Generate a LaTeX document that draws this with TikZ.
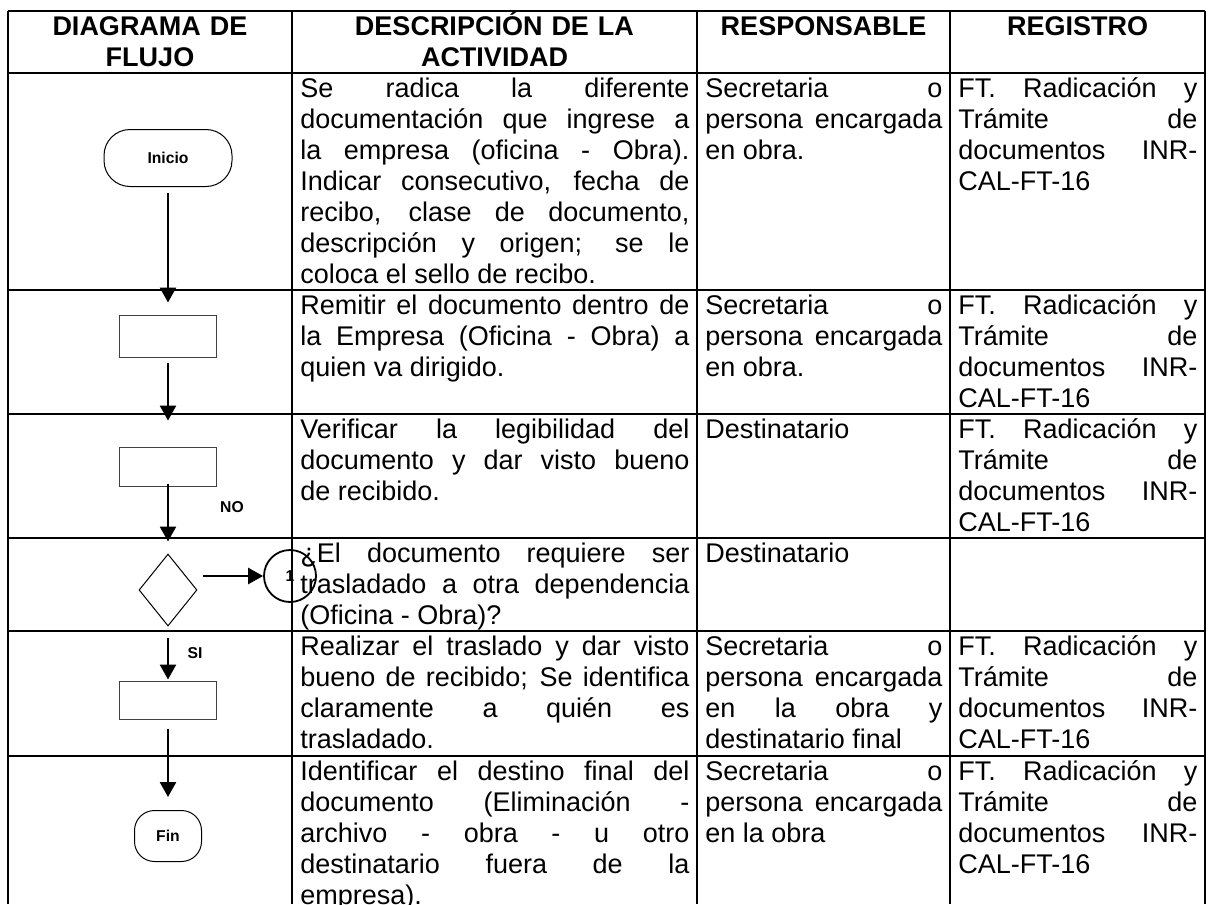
\documentclass[tikz,border=0pt]{standalone}
\usepackage{fontspec}
\setmainfont{Liberation Sans}
\usetikzlibrary{shapes.geometric,arrows.meta}

\newcommand{\cuerpo}{\fontsize{13.5}{15.5}\selectfont}
\newcommand{\linea}{\rule[-3.5pt]{0pt}{15.5pt}}
\newcommand{\registroFT}{\linea FT. Radicación y\linebreak Trámite de\linebreak documentos INR-\linebreak CAL-FT-16}
\newcommand{\secretaria}{\linea Secretaria o\linebreak persona encargada\linebreak en obra.}

\tikzset{
  celda/.style={anchor=north west, inner sep=0pt, align=justify, font=\cuerpo},
  titulo/.style={anchor=north, inner sep=0pt, align=center, font=\cuerpo\bfseries},
  proceso/.style={draw=black!75, line width=0.5pt, minimum width=48.5pt, inner sep=0pt},
  terminal/.style={draw, line width=0.5pt, inner sep=0pt, font=\fontsize{7.85}{9}\selectfont\bfseries},
  decision/.style={diamond, draw, line width=0.5pt, minimum width=29pt, minimum height=36pt, inner sep=0pt},
  conector/.style={circle, draw, line width=0.9pt, minimum size=26pt, inner sep=0pt, font=\fontsize{7.85}{9}\selectfont\bfseries},
  etiqueta/.style={inner sep=0pt, font=\fontsize{7.85}{9}\selectfont\bfseries},
  flecha/.style={-{Triangle[length=7.5pt,width=8pt]}, line width=1.3pt}
}

\begin{document}
\begin{tikzpicture}[x=0.5pt,y=-0.5pt]
	\useasboundingbox (0,0) rectangle (1208,904);
	\clip (0,0) rectangle (1208,904);
	
	% Tabla
	\foreach \y in {11,73,290,414,538,631,756}
		\draw[line width=1.2pt] (8,\y) -- (1205,\y);
	\foreach \x in {8,292,697,950,1205}
		\draw[line width=1.2pt] (\x,11) -- (\x,904);
	
	% Encabezados
	\node[titulo, text width=135pt] (h1) at (150,11) {\linea DIAGRAMA DE\\FLUJO};
	\node[titulo, text width=195pt] (h2) at (494.5,11) {\linea DESCRIPCIÓN DE LA\\ACTIVIDAD};
	\node[titulo, text width=120pt] (h3) at (823.5,11) {\linea RESPONSABLE};
	\node[titulo, text width=120pt] (h4) at (1077.5,11) {\linea REGISTRO};
	
	% Descripcion de cada actividad
	\node[celda, text width=194.5pt] (d1) at (300,73) {\linea Se radica la diferente\linebreak documentación que ingrese a\linebreak la empresa (oficina - Obra).\linebreak Indicar consecutivo, fecha de\linebreak recibo, clase de documento,\linebreak descripción y origen; se le\linebreak coloca el sello de recibo.};
	\node[celda, text width=194.5pt] (d2) at (300,290) {\linea Remitir el documento dentro de\linebreak la Empresa (Oficina - Obra) a\linebreak quien va dirigido.};
	\node[celda, text width=194.5pt] (d3) at (300,414) {\linea Verificar la legibilidad del\linebreak documento y dar visto bueno\linebreak de recibido.};
	\node[celda, text width=194.5pt] (d4) at (300,538) {\linea ¿El documento requiere ser\linebreak trasladado a otra dependencia\linebreak (Oficina - Obra)?};
	\node[celda, text width=194.5pt] (d5) at (300,631) {\linea Realizar el traslado y dar visto\linebreak bueno de recibido; Se identifica\linebreak claramente a quién es\linebreak trasladado.};
	\node[celda, text width=194.5pt] (d6) at (300,756) {\linea Identificar el destino final del\linebreak documento (Eliminación -\linebreak archivo - obra - u otro\linebreak destinatario fuera de la\linebreak empresa).};
	
	% Responsable
	\node[celda, text width=118.5pt] (s1) at (705,73) {\secretaria};
	\node[celda, text width=118.5pt] (s2) at (705,290) {\secretaria};
	\node[celda, text width=118.5pt] (s3) at (705,414) {\linea Destinatario};
	\node[celda, text width=118.5pt] (s4) at (705,538) {\linea Destinatario};
	\node[celda, text width=118.5pt] (s5) at (705,631) {\linea Secretaria o\linebreak persona encargada\linebreak en la obra y\linebreak destinatario final};
	\node[celda, text width=118.5pt] (s6) at (705,756) {\linea Secretaria o\linebreak persona encargada\linebreak en la obra};
	
	% Registro
	\foreach \y/\n in {73/1,290/2,414/3,631/5,756/6}
		\node[celda, text width=119.5pt] (f\n) at (958,\y) {\registroFT};
	
	% Diagrama
	\node[terminal, minimum width=64pt, minimum height=28.5pt, rounded corners=13pt] (ini) at (168,158) {Inicio};
	\node[proceso, minimum height=21pt] (r2) at (168,336) {};
	\node[proceso, minimum height=19.5pt] (r3) at (168,466.5) {};
	\node[decision] (dec) at (168,590) {};
	\node[conector] (cir) at (290,576) {1};
	\node[proceso, minimum height=19pt] (r5) at (168,700) {};
	\node[terminal, minimum width=33.5pt, minimum height=25.5pt, rounded corners=10pt] (fin) at (168,836) {Fin};
	
	\node[etiqueta] (no) at (232,507) {NO};
	\node[etiqueta] (si) at (195,653) {SI};
	
	% Flechas
	\draw[flecha, shorten <=3pt, shorten >=6pt] (ini) -- (r2);
	\draw[flecha, shorten <=2.5pt, shorten >=13pt] (r2) -- (r3);
	\draw[flecha, shorten <=-1.5pt, shorten >=6pt] (r3) -- (dec);
	\draw[flecha, shorten <=5.5pt, shorten >=0.5pt] (dec) -- (r5);
	\draw[flecha, shorten <=4.5pt, shorten >=6.5pt] (r5) -- (fin);
	\draw[flecha, shorten <=2.5pt] (dec.east |- cir.west) -- (cir.west);
\end{tikzpicture}
\end{document}
